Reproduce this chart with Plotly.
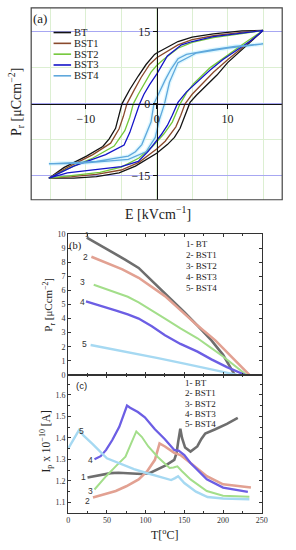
import plotly.graph_objects as go

SERIF = "Liberation Serif"
SANS = "Liberation Sans"

names = ["BT", "BST1", "BST2", "BST3", "BST4"]

# ---------- (a) hysteresis loops: E [kV/cm], P [uC/cm2] ----------
BT_up_E = [15, 12, 8, 5, 3, 1, 0, -0.3, -1.5, -2.6, -3.8, -4.9, -5.4, -5.8, -6.7, -7.6, -9.9, -13.1, -15.2]
BT_up_P = [15.3, 15.2, 14.6, 13.9, 13.0, 11.5, 10.6, 10.3, 8.2, 5.8, 3.0, 0.0, -2.8, -5.1, -7.3, -8.9, -10.9, -13.3, -15.5]
BT_lo_E = [-15.2, -11.7, -8.5, -5.3, -3.0, -1.2, 0, 1.5, 2.5, 3.3, 4.0, 4.7, 5.6, 6.5, 8.5, 10.0, 12.5, 15]
BT_lo_P = [-15.5, -15.5, -15.2, -14.4, -13.0, -11.3, -10.3, -8.5, -7.0, -5.1, -2.6, 0.3, 1.8, 3.1, 6.0, 8.6, 12.0, 15.3]

BST1_up_E = [15, 12, 8, 5, 3, 1, 0, -1.0, -2.2, -3.2, -4.2, -4.7, -5.3, -6.5, -9.0, -12.5, -15.2]
BST1_up_P = [15.3, 14.9, 14.2, 13.4, 12.3, 10.6, 9.6, 8.2, 5.5, 2.8, 0.0, -2.6, -5.2, -8.2, -10.6, -13.2, -15.5]
BST1_lo_E = [-15.2, -12, -8.5, -5.0, -2.5, -0.8, 0, 1.2, 2.7, 3.4, 4.0, 5.0, 6.0, 8.0, 10.0, 12.5, 15]
BST1_lo_P = [-15.5, -15.2, -14.7, -13.8, -12.2, -10.3, -9.4, -7.8, -4.8, -2.4, 0.0, 2.0, 3.6, 6.6, 9.2, 12.3, 15.3]

BST2_up_E = [15, 12, 8, 5, 3, 1, 0, -0.8, -1.8, -2.6, -3.3, -3.8, -4.5, -6.0, -9.0, -12.5, -15.2]
BST2_up_P = [15.3, 14.7, 13.8, 12.8, 11.6, 9.3, 8.0, 6.6, 4.2, 2.0, 0.0, -2.8, -5.6, -8.8, -11.3, -13.5, -15.5]
BST2_lo_E = [-15.2, -12, -8, -5, -2.5, -0.6, 0, 1.0, 2.2, 2.8, 3.3, 4.2, 5.2, 7.5, 10.0, 12.5, 15]
BST2_lo_P = [-15.5, -15.0, -14.3, -13.2, -11.3, -8.9, -8.0, -6.3, -3.8, -1.8, 0.0, 2.3, 4.2, 7.5, 10.2, 12.8, 15.3]

BST3_up_E = [15, 12, 8, 5, 3.5, 1.5, 0, -1.0, -1.8, -2.4, -3.1, -3.8, -4.6, -7.2, -11.7, -15.2]
BST3_up_P = [15.3, 14.8, 14.0, 13.0, 12.3, 10.0, 6.2, 4.0, 2.0, 0.0, -3.1, -6.0, -8.6, -10.6, -13.0, -15.5]
BST3_lo_E = [-15.2, -12.6, -8.5, -5.0, -2.6, -1.2, 0.6, 1.5, 2.2, 3.0, 4.2, 5.6, 7.5, 9.3, 11.5, 13.4, 15]
BST3_lo_P = [-15.5, -14.4, -13.7, -13.1, -12.0, -9.9, -6.5, -4.5, -2.4, 0.3, 2.5, 4.5, 7.0, 9.2, 11.3, 13.3, 15.3]

BST4_up_E = [15, 11, 7.9, 4.2, 3.0, 2.0, 1.2, 0.6, -0.4, -0.8, -1.5, -2.1, -3.0, -4.0, -8.5, -15.2]
BST4_up_P = [12.5, 12.0, 11.3, 10.3, 9.4, 7.2, 5.0, 3.1, 0.0, -3.8, -6.5, -8.5, -10.0, -10.9, -12.0, -12.5]
BST4_lo_E = [-15.2, -10.8, -4.0, -1.5, -0.2, 0.4, 1.1, 1.8, 3.0, 5.6, 10.0, 15]
BST4_lo_P = [-12.5, -12.4, -11.6, -10.0, -7.0, -3.2, 0.0, 4.5, 8.6, 10.6, 11.6, 12.5]

# ---------- (b) remanent polarization vs T ----------
BT_b_T = [24, 40, 55, 74, 91, 110, 133, 150, 167, 185, 200, 215]
BT_b_P = [9.75, 9.25, 8.8, 8.18, 7.6, 6.6, 5.4, 4.45, 3.5, 2.45, 1.42, 0.0]
BST1_b_T = [30, 50, 70, 91, 110, 125, 145, 167, 190, 209, 234]
BST1_b_P = [8.4, 7.95, 7.5, 6.9, 6.2, 5.6, 4.6, 3.5, 2.45, 1.42, 0.0]
BST2_b_T = [33, 50, 62, 77, 91, 108, 125, 145, 167, 185, 200, 230]
BST2_b_P = [6.4, 6.05, 5.85, 5.55, 5.15, 4.6, 4.0, 3.3, 2.6, 1.9, 1.3, 0.0]
BST3_b_T = [23, 40, 62, 77, 91, 108, 125, 145, 167, 185, 205, 228]
BST3_b_P = [5.22, 4.95, 4.57, 4.3, 4.0, 3.45, 2.82, 2.2, 1.65, 1.1, 0.55, 0.0]
BST4_b_T = [29, 60, 91, 116, 150, 180, 209, 218]
BST4_b_P = [2.12, 1.8, 1.45, 1.19, 0.8, 0.47, 0.14, 0.0]

# ---------- (c) pyroelectric current vs T ----------
BT_c_T = [25, 35, 45, 55, 65, 80, 95, 105, 116, 126, 137, 140, 142, 144.8, 147, 151, 158, 166.7, 172, 177, 190, 205, 219]
BT_c_I = [1.216, 1.222, 1.23, 1.236, 1.238, 1.235, 1.232, 1.236, 1.253, 1.272, 1.298, 1.33, 1.38, 1.443, 1.40, 1.355, 1.336, 1.36, 1.395, 1.42, 1.44, 1.465, 1.493]
BST1_c_T = [32, 45, 61.5, 75, 91, 102, 112, 118, 125, 137, 145, 158, 179, 200, 236]
BST1_c_I = [1.123, 1.135, 1.153, 1.175, 1.207, 1.245, 1.298, 1.374, 1.36, 1.33, 1.32, 1.283, 1.222, 1.184, 1.169]
BST2_c_T = [34, 49, 62, 74, 82, 88, 95, 103.5, 116, 124.6, 131, 136, 141, 147, 158, 179, 200, 234]
BST2_c_I = [1.16, 1.222, 1.27, 1.313, 1.38, 1.43, 1.405, 1.36, 1.31, 1.283, 1.26, 1.262, 1.268, 1.245, 1.207, 1.153, 1.131, 1.126]
BST3_c_T = [34, 42, 49, 57, 66, 72, 76, 80, 90, 99, 112, 124.6, 137, 143, 150, 158, 179, 200, 232]
BST3_c_I = [1.301, 1.315, 1.344, 1.39, 1.451, 1.51, 1.55, 1.54, 1.52, 1.496, 1.44, 1.395, 1.344, 1.34, 1.32, 1.283, 1.207, 1.169, 1.149]
BST4_c_T = [0, 6, 14, 20, 32, 50, 70, 85, 100, 116, 133, 138, 142, 150, 165, 180, 200, 234]
BST4_c_I = [1.35, 1.39, 1.436, 1.41, 1.37, 1.305, 1.275, 1.255, 1.238, 1.222, 1.204, 1.213, 1.222, 1.19, 1.15, 1.125, 1.118, 1.115]

loops = [
    (BT_up_E, BT_up_P, BT_lo_E, BT_lo_P),
    (BST1_up_E, BST1_up_P, BST1_lo_E, BST1_lo_P),
    (BST2_up_E, BST2_up_P, BST2_lo_E, BST2_lo_P),
    (BST3_up_E, BST3_up_P, BST3_lo_E, BST3_lo_P),
    (BST4_up_E, BST4_up_P, BST4_lo_E, BST4_lo_P),
]
b_series = [(BT_b_T, BT_b_P), (BST1_b_T, BST1_b_P), (BST2_b_T, BST2_b_P), (BST3_b_T, BST3_b_P), (BST4_b_T, BST4_b_P)]
c_series = [(BT_c_T, BT_c_I), (BST1_c_T, BST1_c_I), (BST2_c_T, BST2_c_I), (BST3_c_T, BST3_c_I), (BST4_c_T, BST4_c_I)]

col_a = ["#141414", "#8a4a2c", "#74c83a", "#1414c8", "#5fa8dc"]
col_bc = ["#6e6e6e", "#e2a192", "#a3de8a", "#6c5ee4", "#a6d9f2"]
wid_bc = [2.6, 2.6, 2.0, 2.3, 2.4]

fig = go.Figure()

# (a)
fig.add_trace(go.Scatter(x=BST4_up_E + BST4_lo_E, y=BST4_up_P + BST4_lo_P, mode="lines",
                         line=dict(color="rgba(200,242,255,0.6)", width=4), showlegend=False,
                         xaxis="x", yaxis="y", hoverinfo="skip"))
for i, (ue, up, le, lp) in enumerate(loops):
    fig.add_trace(go.Scatter(x=ue + le, y=up + lp, mode="lines", name=names[i],
                             line=dict(color=col_a[i], width=1.3), showlegend=False,
                             xaxis="x", yaxis="y"))

# (b)
for i, (t, p) in enumerate(b_series):
    fig.add_trace(go.Scatter(x=t, y=p, mode="lines", line=dict(color=col_bc[i], width=wid_bc[i]),
                             showlegend=False, xaxis="x2", yaxis="y2"))
# (c)
for i, (t, p) in enumerate(c_series):
    fig.add_trace(go.Scatter(x=t, y=p, mode="lines", line=dict(color=col_bc[i], width=wid_bc[i]),
                             showlegend=False, xaxis="x3", yaxis="y3"))

W, H = 296, 550
def px(x):
    return x / W
def py(y):
    return 1 - y / H

dom_ax = [px(30), px(288)]
dom_ay = [py(199), py(4)]
dom_bcx = [px(68), px(267)]
dom_by = [py(377), py(234)]
dom_cy = [py(517), py(377)]

grid_blue = "#a7a7f2"
grid_green = "#dcefd2"

fig.update_layout(
    width=W, height=H, margin=dict(l=0, r=0, t=0, b=0),
    paper_bgcolor="white", plot_bgcolor="white",
    font=dict(family=SERIF, color="#222"),
    xaxis=dict(domain=dom_ax, range=[-17.7, 17.7], anchor="free", position=(dom_ay[0] + dom_ay[1]) / 2,
               showline=True, linecolor="#111", linewidth=1.2, zeroline=False, layer="above traces",
               tickvals=[-10, 0, 10], ticks="outside", ticklen=4, tickcolor="#111",
               tickfont=dict(family=SERIF, size=12, color="#222"),
               showgrid=False,
               minor=dict(dtick=5, showgrid=True, gridcolor=grid_green, gridwidth=1)),
    xaxis4=dict(range=[-17.7, 17.7], overlaying="x", anchor="y", showline=False, zeroline=False,
                tickvals=[-10, 10], showticklabels=False, ticks="",
                showgrid=True, gridcolor=grid_blue, gridwidth=1.3),
    yaxis=dict(domain=dom_ay, range=[-20, 20], anchor="free", position=(dom_ax[0] + dom_ax[1]) / 2,
               showline=True, linecolor="#111", linewidth=1.2, zeroline=False, layer="above traces",
               tickvals=[-15, 0, 15], ticks="outside", ticklen=4, tickcolor="#111",
               tickfont=dict(family=SERIF, size=12, color="#222"),
               showgrid=True, gridcolor=grid_blue, gridwidth=1.3,
               minor=dict(dtick=7.5, showgrid=True, gridcolor=grid_green, gridwidth=1)),
    xaxis2=dict(domain=dom_bcx, range=[0, 250], anchor="y2", showticklabels=False,
                showline=True, mirror="ticks", linecolor="#333", linewidth=1,
                ticks="inside", ticklen=3, dtick=50, tickcolor="#333", showgrid=False, zeroline=False,
                minor=dict(dtick=25, ticks="inside", ticklen=2, tickcolor="#333")),
    yaxis2=dict(domain=dom_by, range=[0, 10], anchor="x2", dtick=1,
                showline=True, mirror="ticks", linecolor="#333", linewidth=1,
                ticks="inside", ticklen=3, tickcolor="#333", showgrid=False, zeroline=False,
                tickfont=dict(family=SERIF, size=8, color="#333")),
    xaxis3=dict(domain=dom_bcx, range=[0, 250], anchor="y3", dtick=50,
                showline=True, mirror="ticks", linecolor="#333", linewidth=1,
                ticks="inside", ticklen=3, tickcolor="#333", showgrid=False, zeroline=False,
                tickfont=dict(family=SERIF, size=8, color="#333"),
                minor=dict(dtick=25, ticks="inside", ticklen=2, tickcolor="#333")),
    yaxis3=dict(domain=dom_cy, range=[1.053, 1.693], anchor="x3",
                tickvals=[1.1, 1.2, 1.3, 1.4, 1.5, 1.6], ticktext=["1.1", "1.2", "1.3", "1.4", "1.5", "1.6"],
                showline=True, mirror="ticks", linecolor="#333", linewidth=1,
                ticks="inside", ticklen=3, tickcolor="#333", showgrid=False, zeroline=False,
                tickfont=dict(family=SERIF, size=8, color="#333"),
                minor=dict(dtick=0.05, ticks="inside", ticklen=2, tickcolor="#333")),
)

shapes = [dict(type="rect", xref="x domain", yref="y domain", x0=0, x1=1, y0=0, y1=1,
               line=dict(color="#444", width=1.2), layer="above")]
ann = []

# manual legend for (a)
for i, n in enumerate(names):
    yy = py(29 + 11 * i)
    shapes.append(dict(type="line", xref="paper", yref="paper", x0=px(53), x1=px(71), y0=yy, y1=yy,
                       line=dict(color=col_a[i], width=1.6)))
    ann.append(dict(text=n, xref="paper", yref="paper", x=px(72), y=yy, xanchor="left", yanchor="middle",
                    showarrow=False, font=dict(family=SERIF, size=10.5, color="#222")))

# axis titles and panel labels
ann += [
    dict(text="(a)", x=px(39), y=py(15), font=dict(family=SERIF, size=13, color="#222")),
    dict(text="P<sub>r</sub> [μCcm<sup>−2</sup>]", x=px(15), y=py(100), textangle=-90,
         font=dict(family=SERIF, size=14, color="#222")),
    dict(text="E [kVcm<sup>−1</sup>]", x=px(160), y=py(212), font=dict(family=SERIF, size=14, color="#222")),
    dict(text="(b)", x=px(76), y=py(246), font=dict(family=SERIF, size=10.5, color="#222")),
    dict(text="P<sub>r</sub> [μCcm<sup>−2</sup>]", x=px(48), y=py(306), textangle=-90,
         font=dict(family=SERIF, size=11, color="#222")),
    dict(text="(c)", x=px(82), y=py(388), font=dict(family=SANS, size=9.5, color="#222")),
    dict(text="I<sub>p</sub> x 10<sup>−10</sup> [A]", x=px(45), y=py(445), textangle=-90,
         font=dict(family=SERIF, size=11.5, color="#222")),
    dict(text="T[<sup>o</sup>C]", x=px(168), y=py(539), font=dict(family=SERIF, size=12, color="#222")),
]
for a in ann:
    a.setdefault("xref", "paper")
    a.setdefault("yref", "paper")
    a.setdefault("showarrow", False)
    a.setdefault("xanchor", "center")
    a.setdefault("yanchor", "middle")

# legends for (b) and (c)
for i, n in enumerate(names):
    ann.append(dict(text=f"{i+1}- {n}", xref="paper", yref="paper", x=px(187), y=py(243.5 + 11.2 * i),
                    xanchor="left", yanchor="middle", showarrow=False,
                    font=dict(family=SERIF, size=9, color="#222")))
    ann.append(dict(text=f"{i+1}- {n}", xref="paper", yref="paper", x=px(186), y=py(385 + 10.6 * i),
                    xanchor="left", yanchor="middle", showarrow=False,
                    font=dict(family=SERIF, size=9, color="#222")))

# curve numbers
b_num_pos = [(24, 10.0), (23, 8.4), (19, 6.6), (19, 5.2), (21.5, 2.2)]
c_num_pos = [(20, 1.22), (25.5, 1.108), (28.5, 1.152), (28.5, 1.298), (17, 1.432)]
b_num_size = [7, 8.5, 8.5, 8.5, 8.5]
for i in range(5):
    ann.append(dict(text=str(i + 1), xref="x2", yref="y2", x=b_num_pos[i][0], y=b_num_pos[i][1],
                    xanchor="center", yanchor="middle",
                    showarrow=False, font=dict(family=SANS, size=b_num_size[i], color="#333")))
    ann.append(dict(text=str(i + 1), xref="x3", yref="y3", x=c_num_pos[i][0], y=c_num_pos[i][1],
                    xanchor="center", yanchor="middle",
                    showarrow=False, font=dict(family=SANS, size=8.5, color="#333")))

fig.update_layout(shapes=shapes, annotations=ann)
fig.write_html("out.html", config={"displayModeBar": False},
               post_script="document.body.style.margin='0';document.body.style.padding='0';"
                           "document.documentElement.style.overflow='hidden';")
